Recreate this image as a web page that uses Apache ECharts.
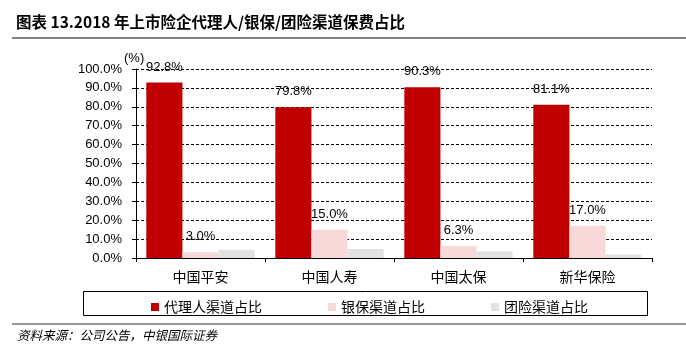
<!DOCTYPE html>
<html><head><meta charset="utf-8">
<script src="https://cdn.jsdelivr.net/npm/echarts@6/dist/echarts.min.js"></script>
<style>html,body{margin:0;padding:0;background:#fff}#c{width:686px;height:357px}</style>
</head><body><div id="c"></div>
<script>
const categories = ['中国平安', '中国人寿', '中国太保', '新华保险'];
const agentShare = [92.8, 79.8, 90.3, 81.1];
const bancaShare = [3.0, 15.0, 6.3, 17.0];
const groupShare = [4.3, 4.8, 3.4, 1.9];
const seriesNames = ['代理人渠道占比', '银保渠道占比', '团险渠道占比'];
const yTicks = [0, 10, 20, 30, 40, 50, 60, 70, 80, 90, 100];

const chart = echarts.init(document.getElementById('c'), null, {renderer: 'canvas'});
const numFont = '"Liberation Sans", Arial, sans-serif';
const cjkFont = '"Noto Sans CJK SC", sans-serif';
const lbl = {show: true, position: 'top', distance: 9, color: '#000', fontSize: 13, fontFamily: numFont,
  formatter: p => p.value.toFixed(1) + '%'};
chart.setOption({
  animation: false,
  grid: {left: 136, right: 34, top: 69, bottom: 99, containLabel: false},
  legend: {
    left: 146, top: 295, itemWidth: 8, itemHeight: 8, itemGap: 66, icon: 'rect',
    textStyle: {fontSize: 14, fontFamily: cjkFont, color: '#000'},
    data: seriesNames
  },
  xAxis: {
    type: 'category', data: categories,
    axisLine: {lineStyle: {color: '#000', width: 1}},
    axisTick: {show: true, length: 4, lineStyle: {color: '#000'}},
    axisLabel: {color: '#000', fontSize: 14, fontFamily: cjkFont, margin: 12}
  },
  yAxis: {
    type: 'value', min: 0, max: 100, interval: 10,
    axisLine: {show: true, lineStyle: {color: '#000', width: 1}},
    axisTick: {show: true, length: 4, lineStyle: {color: '#000'}},
    axisLabel: {color: '#000', fontSize: 13, fontFamily: numFont, margin: 14,
      formatter: v => yTicks.includes(v) ? v.toFixed(1) + '%' : ''},
    splitLine: {show: true, lineStyle: {color: '#000', type: [3, 2], width: 1}}
  },
  series: [
    {name: seriesNames[0], type: 'bar', data: agentShare, barGap: '0%', barCategoryGap: '16%',
     itemStyle: {color: '#C00000'}, label: lbl},
    {name: seriesNames[1], type: 'bar', data: bancaShare, barGap: '0%', barCategoryGap: '16%',
     itemStyle: {color: '#F8D9DA'}, label: lbl},
    {name: seriesNames[2], type: 'bar', data: groupShare, barGap: '0%', barCategoryGap: '16%',
     itemStyle: {color: '#E2E2E2'}, label: {show: false}}
  ],
  graphic: [
    {type: 'text', left: 16, top: 14, style: {text: '图表 13.2018 年上市险企代理人/银保/团险渠道保费占比',
      font: 'bold 15.5px "Noto Sans CJK SC", sans-serif', fill: '#000'}},
    {type: 'rect', shape: {x: 12, y: 37, width: 674, height: 2}, style: {fill: '#808080'}},
    {type: 'text', left: 124, top: 52, style: {text: '(%)', font: '13px "Liberation Sans", Arial, sans-serif', fill: '#000'}},
    {type: 'rect', shape: {x: 83.5, y: 291.5, width: 564, height: 24}, style: {fill: 'none', stroke: '#000', lineWidth: 1}},
    {type: 'rect', shape: {x: 12, y: 323, width: 674, height: 2}, style: {fill: '#999'}},
    {type: 'text', left: 17, top: 329, style: {text: '资料来源：公司公告，中银国际证券',
      font: 'italic 12.5px "Noto Sans CJK SC", sans-serif', fill: '#000'}}
  ]
});
</script></body></html>
